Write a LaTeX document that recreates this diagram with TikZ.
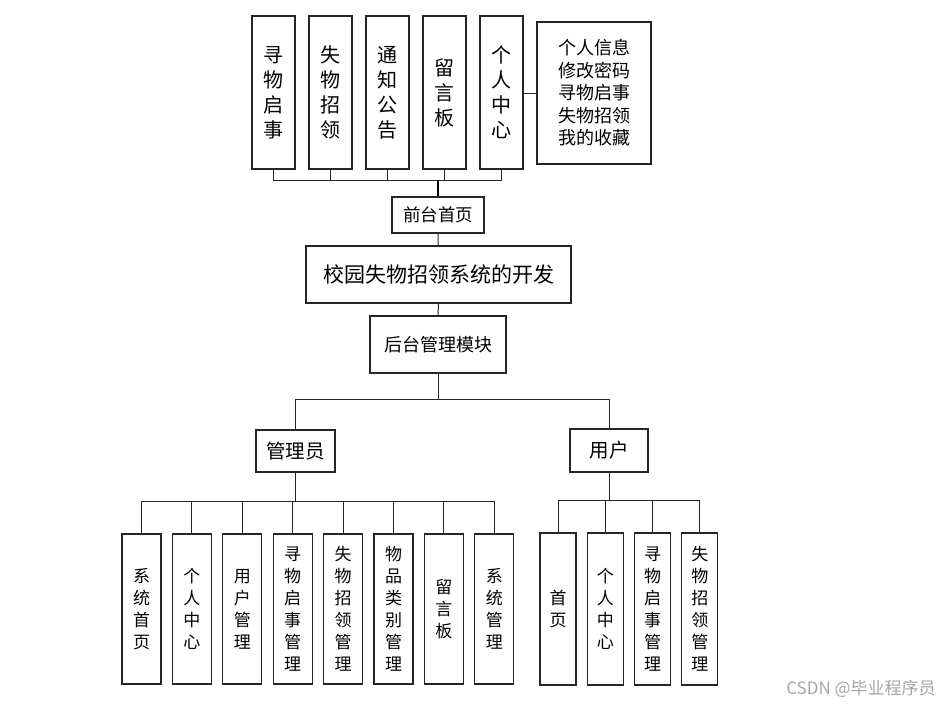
\documentclass[tikz,border=0pt]{standalone}
\usepackage{fontspec}
\setmainfont{Noto Sans CJK SC}
\usetikzlibrary{positioning}

\begin{document}
\begin{tikzpicture}[
        x=1pt, y=-1pt,
        link/.style={draw=black!85, line width=1pt},
        boxnode/.style={rectangle, draw=black!85, line width=1.1pt, inner sep=0pt, align=center},
        topnode/.style={boxnode, minimum width=43pt, minimum height=153pt, font=\fontsize{20}{25}\selectfont},
        headnode/.style={boxnode, font=\fontsize{18}{22}\selectfont},
        adminnode/.style={boxnode, minimum width=39pt, minimum height=150pt, font=\fontsize{17}{22}\selectfont},
        usernode/.style={boxnode, minimum width=36pt, minimum height=152pt, font=\fontsize{17}{22}\selectfont}
    ]
    \useasboundingbox (0,0) rectangle (943,705);

        \node [topnode] (Top1) at (273.5,92.5) {寻\\物\\启\\事};
        \node [topnode, node distance=57pt] (Top2) [right of= Top1] {失\\物\\招\\领};
        \node [topnode, node distance=57pt] (Top3) [right of= Top2] {通\\知\\公\\告};
        \node [topnode, node distance=57pt] (Top4) [right of= Top3] {留\\言\\板};
        \node [topnode, node distance=57pt] (Top5) [right of= Top4] {个\\人\\中\\心};
        \node [boxnode, minimum width=114pt, minimum height=142pt, font=\fontsize{18}{22.5}\selectfont] (Info) at (594,93) {个人信息\\修改密码\\寻物启事\\失物招领\\我的收藏};

        \node [headnode, minimum width=92pt, minimum height=36pt, font=\fontsize{17.5}{20}\selectfont] (Front) at (438,215) {前台首页};
        \node [headnode, minimum width=265pt, minimum height=57pt, font=\fontsize{21}{24}\selectfont] (System) at (438.5,274.5) {校园失物招领系统的开发};
        \node [headnode, minimum width=136pt, minimum height=57pt] (Back) at (438,344.5) {后台管理模块};
        \node [headnode, minimum width=79pt, minimum height=42pt, font=\fontsize{19.5}{22}\selectfont] (Admin) at (295.5,451) {管理员};
        \node [headnode, minimum width=78pt, minimum height=43pt, font=\fontsize{19.5}{22}\selectfont] (User) at (609,450.5) {用户};

        \node [adminnode] (Admin1) at (141.5,609) {系\\统\\首\\页};
        \node [adminnode, node distance=50.4pt] (Admin2) [right of= Admin1] {个\\人\\中\\心};
        \node [adminnode, node distance=50.4pt] (Admin3) [right of= Admin2] {用\\户\\管\\理};
        \node [adminnode, node distance=50.4pt] (Admin4) [right of= Admin3] {寻\\物\\启\\事\\管\\理};
        \node [adminnode, node distance=50.4pt] (Admin5) [right of= Admin4] {失\\物\\招\\领\\管\\理};
        \node [adminnode, node distance=50.4pt] (Admin6) [right of= Admin5] {物\\品\\类\\别\\管\\理};
        \node [adminnode, node distance=50.4pt] (Admin7) [right of= Admin6] {留\\言\\板};
        \node [adminnode, node distance=50.4pt] (Admin8) [right of= Admin7] {系\\统\\管\\理};

        \node [usernode] (User1) at (558,609) {首\\页};
        \node [usernode, node distance=47.3pt] (User2) [right of= User1] {个\\人\\中\\心};
        \node [usernode, node distance=47.3pt] (User3) [right of= User2] {寻\\物\\启\\事\\管\\理};
        \node [usernode, node distance=47.3pt] (User4) [right of= User3] {失\\物\\招\\领\\管\\理};

        \coordinate (TopBus) at (438,180);
        \coordinate (BackBus) at (438,399);
        \coordinate (AdminBus) at (295.5,501);
        \coordinate (UserBus) at (609,500);

        \path[link] (Top1.south) |- (TopBus);
        \path[link] (Top2.south) |- (TopBus);
        \path[link] (Top3.south) |- (TopBus);
        \path[link] (Top4.south) |- (TopBus);
        \path[link] (Top5.south) |- (TopBus);
        \path[link, draw=black, line width=1.6pt] (TopBus) -- (Front.north);
        \path[link] (Top5.east |- Info.west) -- (Info.west);
        \path[link] (Front) -- (System);
        \path[link] (System) -- (Back);
        \path[link] (Back.south) -- (BackBus);
        \path[link] (Admin.north) |- (BackBus);
        \path[link] (User.north) |- (BackBus);

        \path[link] (Admin.south) -- (AdminBus);
        \path[link] (Admin1.north) |- (AdminBus);
        \path[link] (Admin2.north) |- (AdminBus);
        \path[link] (Admin3.north) |- (AdminBus);
        \path[link] (Admin4.north) |- (AdminBus);
        \path[link] (Admin5.north) |- (AdminBus);
        \path[link] (Admin6.north) |- (AdminBus);
        \path[link] (Admin7.north) |- (AdminBus);
        \path[link] (Admin8.north) |- (AdminBus);

        \path[link] (User.south) -- (UserBus);
        \path[link] (User1.north) |- (UserBus);
        \path[link] (User2.north) |- (UserBus);
        \path[link] (User3.north) |- (UserBus);
        \path[link] (User4.north) |- (UserBus);

        \node [text=black!35, font=\fontsize{17}{20}\selectfont] (Mark) at (861,689) {CSDN @毕业程序员};

    \end{tikzpicture}
\end{document}
